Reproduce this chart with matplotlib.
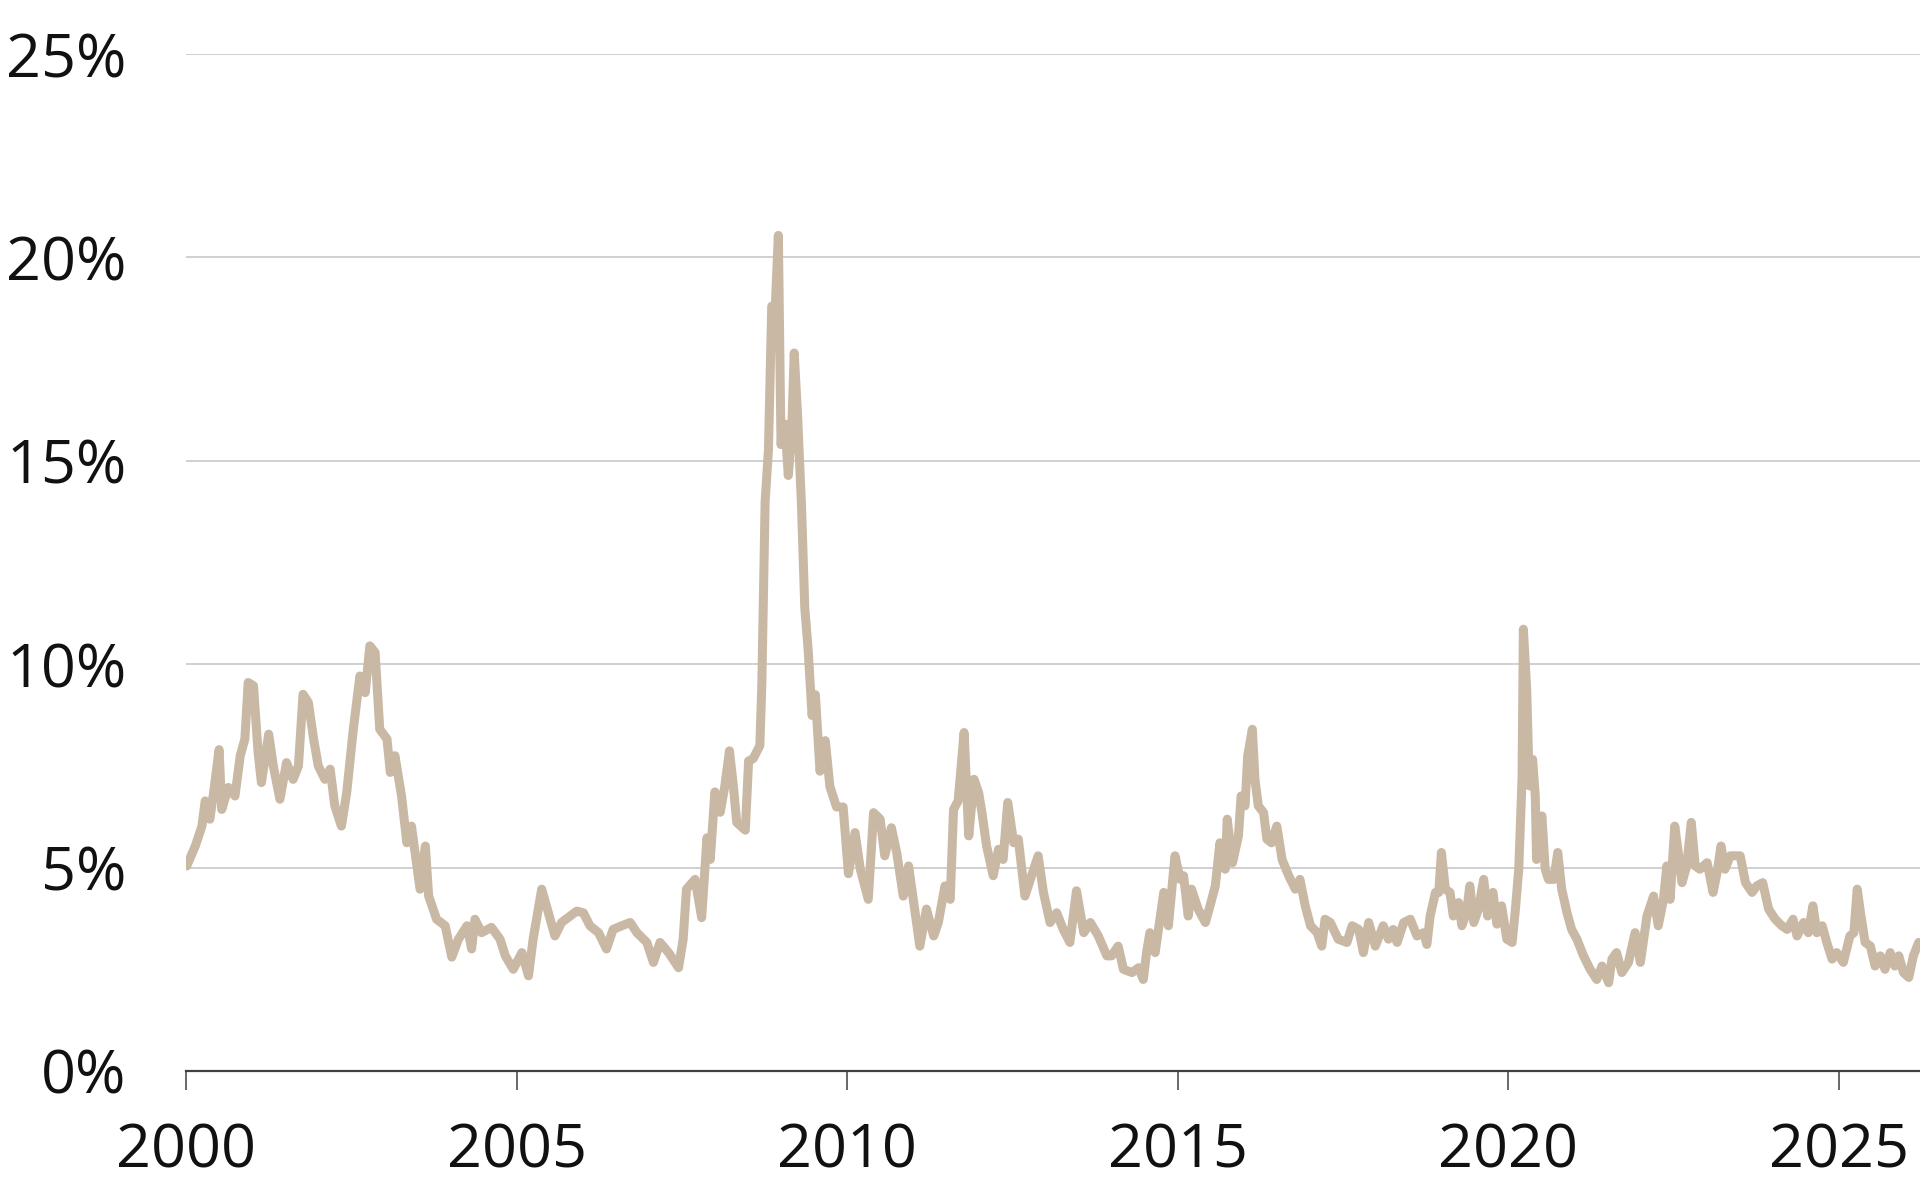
import matplotlib
matplotlib.use("Agg")
import matplotlib.pyplot as plt

plt.rcParams['font.family'] = ['Open Sans', 'DejaVu Sans']

# decimal years and spread values (%)
years = [
    2000.01, 2000.14, 2000.24, 2000.29, 2000.36, 2000.41, 2000.50, 2000.54, 2000.64, 2000.74,
    2000.82, 2000.89, 2000.94, 2001.02, 2001.09, 2001.14, 2001.25, 2001.32, 2001.42, 2001.52,
    2001.62, 2001.70, 2001.77, 2001.85, 2001.93, 2002.00, 2002.10, 2002.18, 2002.25, 2002.35,
    2002.43, 2002.53, 2002.63, 2002.71, 2002.78, 2002.86, 2002.93, 2003.04, 2003.09, 2003.16,
    2003.26, 2003.34, 2003.41, 2003.54, 2003.62, 2003.67, 2003.79, 2003.92, 2004.02, 2004.12,
    2004.25, 2004.32, 2004.37, 2004.47, 2004.62, 2004.75, 2004.83, 2004.95, 2005.08, 2005.18,
    2005.25, 2005.38, 2005.48, 2005.58, 2005.68, 2005.81, 2005.91, 2006.01, 2006.11, 2006.24,
    2006.36, 2006.46, 2006.59, 2006.72, 2006.82, 2006.97, 2007.07, 2007.17, 2007.30, 2007.45,
    2007.52, 2007.57, 2007.70, 2007.80, 2007.88, 2007.93, 2008.00, 2008.08, 2008.15, 2008.22,
    2008.28, 2008.33, 2008.46, 2008.51, 2008.58, 2008.68, 2008.71, 2008.76, 2008.81, 2008.86,
    2008.91, 2008.96, 2009.00, 2009.06, 2009.11, 2009.16, 2009.20, 2009.25, 2009.31, 2009.36,
    2009.41, 2009.47, 2009.52, 2009.59, 2009.67, 2009.74, 2009.84, 2009.94, 2010.02, 2010.12,
    2010.20, 2010.32, 2010.40, 2010.50, 2010.57, 2010.67, 2010.75, 2010.85, 2010.93, 2011.03,
    2011.10, 2011.20, 2011.31, 2011.38, 2011.48, 2011.56, 2011.61, 2011.68, 2011.77, 2011.84,
    2011.92, 2011.99, 2012.04, 2012.11, 2012.21, 2012.29, 2012.36, 2012.43, 2012.52, 2012.59,
    2012.69, 2012.79, 2012.89, 2012.97, 2013.07, 2013.17, 2013.27, 2013.37, 2013.47, 2013.58,
    2013.68, 2013.80, 2013.93, 2014.00, 2014.10, 2014.18, 2014.31, 2014.41, 2014.48, 2014.53,
    2014.58, 2014.66, 2014.74, 2014.79, 2014.86, 2014.96, 2015.04, 2015.09, 2015.16, 2015.21,
    2015.31, 2015.42, 2015.49, 2015.57, 2015.64, 2015.72, 2015.75, 2015.83, 2015.92, 2015.96,
    2016.02, 2016.06, 2016.13, 2016.17, 2016.22, 2016.30, 2016.35, 2016.42, 2016.50, 2016.58,
    2016.68, 2016.78, 2016.85, 2016.93, 2017.01, 2017.11, 2017.18, 2017.23, 2017.31, 2017.43,
    2017.56, 2017.64, 2017.74, 2017.81, 2017.89, 2017.99, 2018.11, 2018.19, 2018.26, 2018.32,
    2018.42, 2018.52, 2018.62, 2018.72, 2018.77, 2018.82, 2018.90, 2018.95, 2018.99, 2019.05,
    2019.12, 2019.17, 2019.25, 2019.30, 2019.37, 2019.42, 2019.48, 2019.55, 2019.63, 2019.69,
    2019.77, 2019.83, 2019.90, 2019.98, 2020.06, 2020.11, 2020.16, 2020.21, 2020.23, 2020.28,
    2020.32, 2020.37, 2020.41, 2020.43, 2020.51, 2020.56, 2020.61, 2020.69, 2020.75, 2020.81,
    2020.89, 2020.96, 2021.04, 2021.14, 2021.24, 2021.34, 2021.42, 2021.52, 2021.57, 2021.64,
    2021.72, 2021.82, 2021.92, 2022.00, 2022.10, 2022.20, 2022.27, 2022.35, 2022.40, 2022.45,
    2022.52, 2022.58, 2022.63, 2022.70, 2022.77, 2022.83, 2022.90, 2023.01, 2023.10, 2023.16,
    2023.22, 2023.28, 2023.36, 2023.43, 2023.51, 2023.59, 2023.69, 2023.76, 2023.85, 2023.94,
    2024.04, 2024.14, 2024.22, 2024.31, 2024.37, 2024.47, 2024.54, 2024.61, 2024.67, 2024.75,
    2024.82, 2024.90, 2024.97, 2025.07, 2025.17, 2025.23, 2025.28, 2025.33, 2025.40, 2025.48,
    2025.55, 2025.63, 2025.70, 2025.78, 2025.85, 2025.91, 2025.98, 2026.06, 2026.13, 2026.21,
    2026.25,
]
spread = [
    5.04, 5.53, 6.02, 6.64, 6.19, 6.76, 7.90, 6.43, 6.97, 6.76,
    7.75, 8.16, 9.55, 9.47, 7.83, 7.09, 8.28, 7.50, 6.68, 7.58,
    7.17, 7.50, 9.26, 9.06, 8.16, 7.50, 7.17, 7.42, 6.52, 6.02,
    6.84, 8.40, 9.71, 9.30, 10.45, 10.29, 8.40, 8.16, 7.34, 7.75,
    6.76, 5.61, 6.02, 4.47, 5.53, 4.30, 3.73, 3.57, 2.80, 3.24,
    3.57, 3.00, 3.73, 3.40, 3.53, 3.24, 2.83, 2.50, 2.91, 2.34,
    3.24, 4.47, 3.89, 3.32, 3.65, 3.81, 3.93, 3.89, 3.57, 3.40,
    3.00, 3.48, 3.57, 3.65, 3.40, 3.16, 2.67, 3.16, 2.91, 2.54,
    3.24, 4.47, 4.71, 3.77, 5.73, 5.20, 6.86, 6.36, 7.00, 7.87,
    7.00, 6.11, 5.92, 7.62, 7.68, 8.00, 9.50, 14.00, 15.27, 18.80,
    18.66, 20.54, 15.40, 15.90, 14.64, 15.64, 17.65, 16.14, 13.90, 11.38,
    10.37, 8.74, 9.25, 7.37, 8.12, 6.99, 6.49, 6.49, 4.85, 5.86,
    4.96, 4.22, 6.35, 6.19, 5.29, 5.98, 5.37, 4.30, 5.04, 3.89,
    3.07, 3.98, 3.32, 3.65, 4.55, 4.22, 6.43, 6.64, 8.32, 5.78,
    7.17, 6.84, 6.35, 5.53, 4.80, 5.45, 5.20, 6.60, 5.61, 5.70,
    4.30, 4.80, 5.29, 4.39, 3.65, 3.89, 3.48, 3.16, 4.43, 3.40,
    3.65, 3.32, 2.83, 2.83, 3.07, 2.50, 2.42, 2.54, 2.25, 2.91,
    3.40, 2.91, 3.81, 4.39, 3.57, 5.29, 4.71, 4.80, 3.81, 4.47,
    3.98, 3.65, 4.06, 4.55, 5.61, 4.96, 6.19, 5.12, 5.78, 6.76,
    6.52, 7.75, 8.40, 7.17, 6.52, 6.35, 5.70, 5.61, 6.02, 5.20,
    4.80, 4.47, 4.71, 4.06, 3.57, 3.40, 3.07, 3.73, 3.65, 3.24,
    3.16, 3.57, 3.48, 2.91, 3.65, 3.07, 3.57, 3.24, 3.48, 3.16,
    3.65, 3.73, 3.32, 3.40, 3.11, 3.81, 4.39, 4.39, 5.37, 4.47,
    4.39, 3.81, 4.14, 3.57, 3.89, 4.55, 3.65, 3.98, 4.71, 3.81,
    4.39, 3.61, 4.06, 3.24, 3.16, 3.98, 4.96, 7.17, 10.86, 9.39,
    7.01, 7.66, 6.76, 5.20, 6.27, 4.96, 4.71, 4.71, 5.37, 4.47,
    3.89, 3.48, 3.24, 2.83, 2.50, 2.25, 2.58, 2.17, 2.75, 2.91,
    2.42, 2.67, 3.40, 2.67, 3.81, 4.30, 3.57, 4.22, 5.04, 4.22,
    6.02, 5.29, 4.63, 5.04, 6.11, 5.04, 4.96, 5.12, 4.39, 4.88,
    5.53, 4.96, 5.29, 5.29, 5.29, 4.63, 4.39, 4.55, 4.63, 3.98,
    3.73, 3.57, 3.48, 3.73, 3.32, 3.65, 3.40, 4.06, 3.40, 3.57,
    3.16, 2.75, 2.91, 2.67, 3.32, 3.40, 4.47, 3.89, 3.16, 3.07,
    2.58, 2.83, 2.50, 2.91, 2.58, 2.83, 2.42, 2.30, 2.83, 3.16,
    3.10,
]
x_ticks = [2000, 2005, 2010, 2015, 2020, 2025]
y_ticks = [0, 5, 10, 15, 20, 25]

fig = plt.figure(figsize=(19.2, 12), dpi=100)
ax = fig.add_axes([0.0969, 0.1075, 0.9031, 0.8475])

ax.plot(years, spread, color='#C9B8A4', linewidth=6.5,
        solid_joinstyle='round', solid_capstyle='round', zorder=3)

ax.set_xlim(2000, 2026.23)
ax.set_ylim(0, 25)
ax.set_xticks(x_ticks)
ax.set_xticklabels([str(y) for y in x_ticks])
ax.set_yticks(y_ticks)
ax.set_yticklabels([f'{v}%' for v in y_ticks])

ax.grid(axis='y', color='#c8c8c8', linewidth=1.2, zorder=1)
ax.set_axisbelow(True)

for side in ['top', 'right', 'left']:
    ax.spines[side].set_visible(False)
ax.spines['bottom'].set_color('#404040')
ax.spines['bottom'].set_linewidth(1.6)
ax.spines['bottom'].set_zorder(4)

ax.tick_params(axis='y', length=0, pad=43, labelsize=44, labelcolor='#111111')
ax.tick_params(axis='x', direction='out', length=14, width=1.1, color='#404040',
               pad=22, labelsize=44, labelcolor='#111111')

fig.savefig('out.png', dpi=100, facecolor='white')
